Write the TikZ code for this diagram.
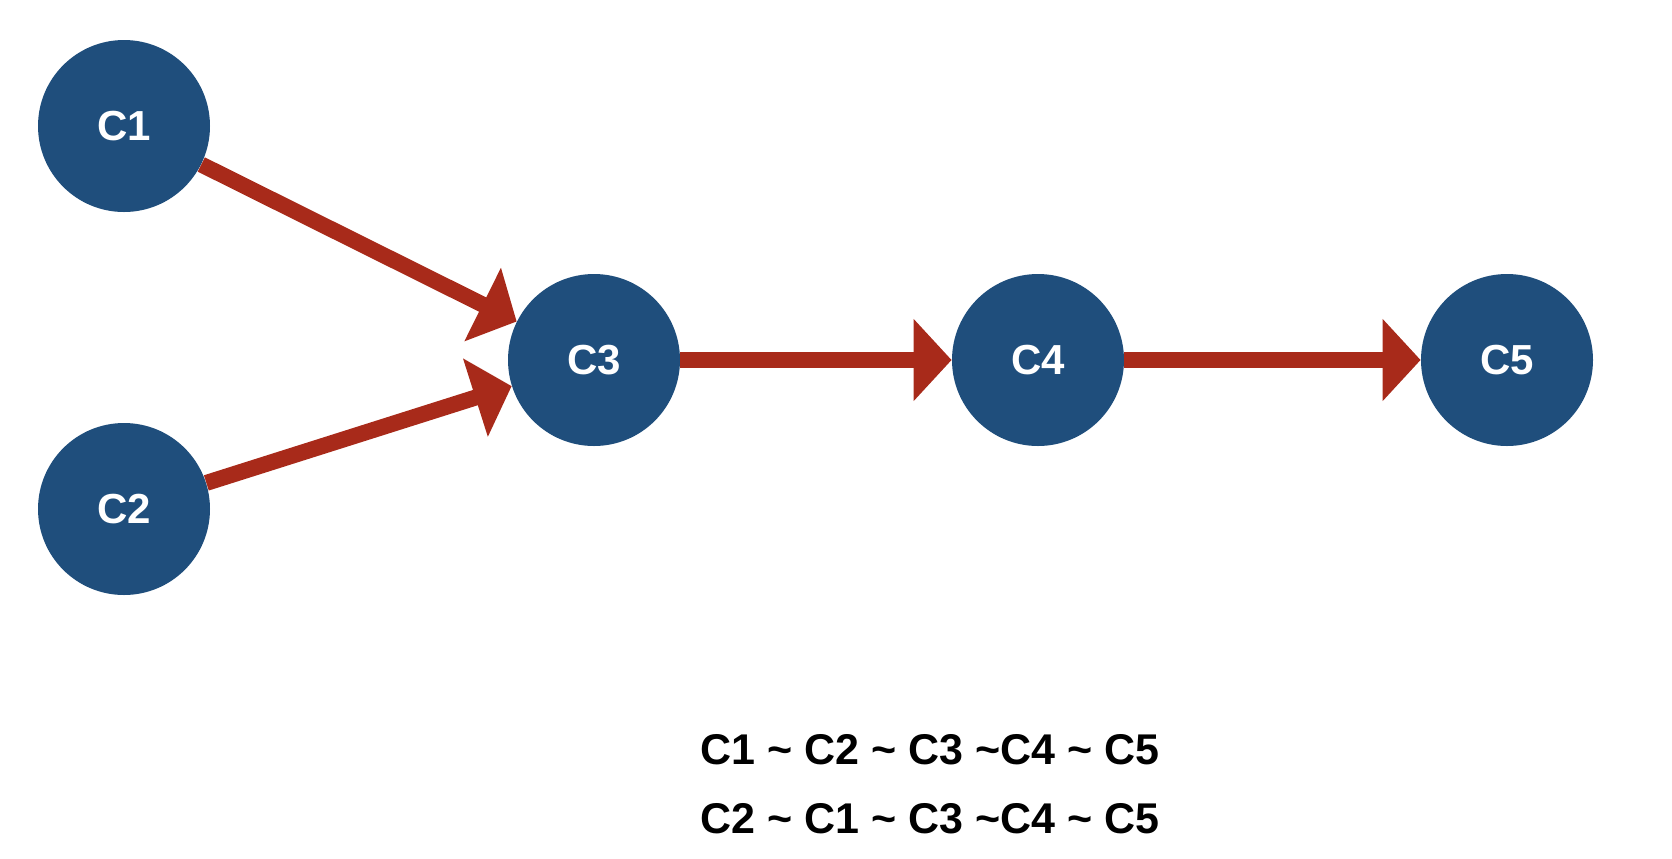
\documentclass[tikz,border=0pt]{standalone}
\usepackage{fontspec}
\setmainfont{Liberation Sans}
\usetikzlibrary{arrows.meta}
\definecolor{nodeblue}{RGB}{31,78,124}
\definecolor{arrowred}{RGB}{168,42,26}
\begin{document}
\begin{tikzpicture}[x=0.5pt, y=-0.5pt, line join=round, >={Triangle[length=19pt,width=40pt]},
	cnode/.style={circle, fill=nodeblue, text=white, minimum size=86pt, inner sep=0pt, font=\fontsize{21}{24}\selectfont\bfseries},
	flow/.style={->, arrowred, line width=8pt},
	order/.style={font=\fontsize{21.5}{25}\selectfont\bfseries}]
	
	\useasboundingbox (0,0) rectangle (1672,858);
	%\draw[gray!10] (0,0) grid[step=100] (1672,858);
	\node[cnode] (C1) at (124,126) {C1};
	\node[cnode] (C2) at (124,509) {C2};
	\node[cnode] (C3) at (594,360) {C3};
	\node[cnode] (C4) at (1038,360) {C4};
	\node[cnode] (C5) at (1507,360) {C5};
	
	\draw[flow] (C1) -- (C3);
	\draw[flow] (C2) -- (C3);
	\draw[flow] (C3) -- (C4);
	\draw[flow] (C4) -- (C5);
	
	% orders
	\node[order] (o1) at (930,750) {C1 \textasciitilde{} C2 \textasciitilde{} C3 \textasciitilde{}C4 \textasciitilde{} C5};
	\node[order] (o2) at (930,819) {C2 \textasciitilde{} C1 \textasciitilde{} C3 \textasciitilde{}C4 \textasciitilde{} C5};
\end{tikzpicture}
\end{document}
